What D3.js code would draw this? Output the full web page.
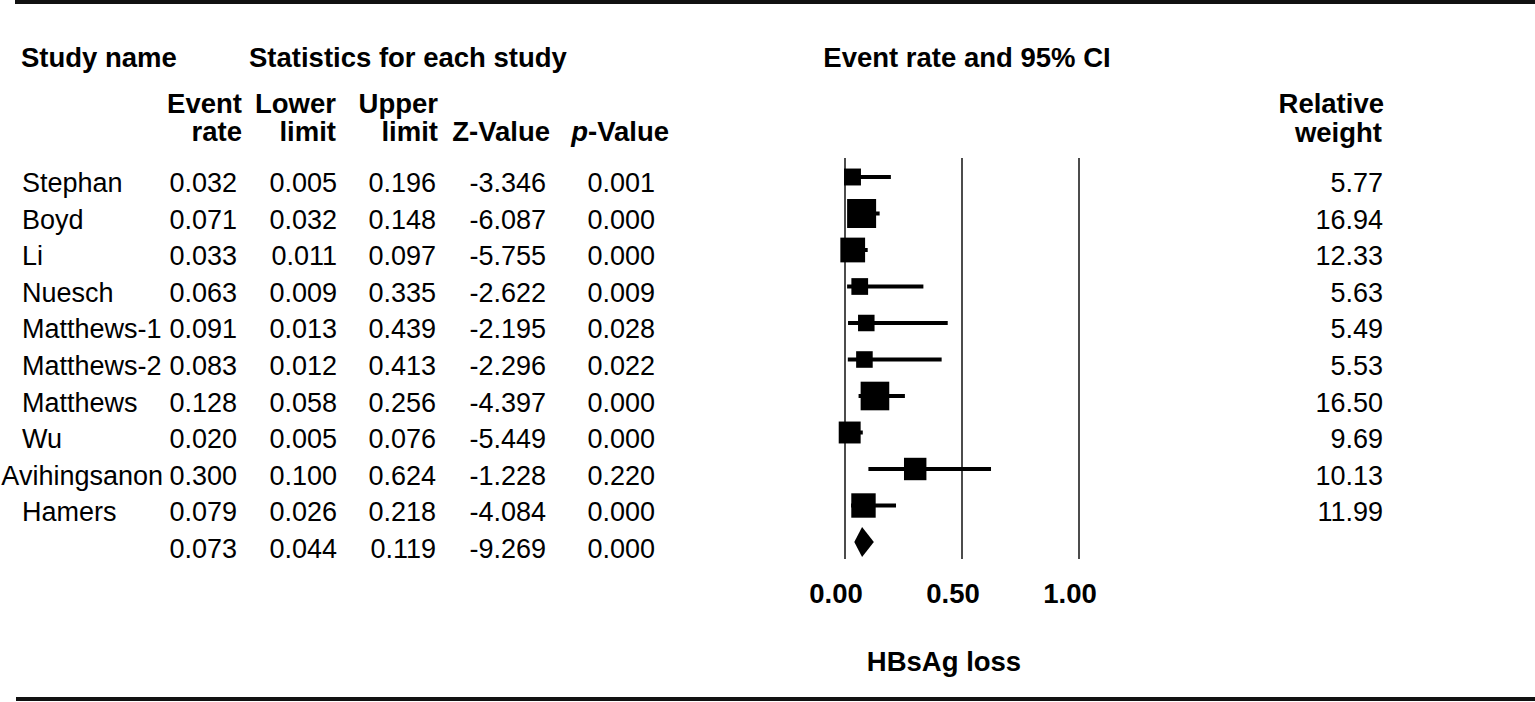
<!DOCTYPE html>
<html>
<head>
<meta charset="utf-8">
<script src="https://cdn.jsdelivr.net/npm/d3@7"></script>
<style>
  body { margin: 0; background: #fff; }
  svg { display: block; font-family: Arial, "Liberation Sans", sans-serif; }
  .hd { font-weight: bold; font-size: 27.5px; }
  .val { font-size: 27px; }
</style>
</head>
<body>
<div id="chart"></div>
<script>
// study data
const studies = ["Stephan", "Boyd", "Li", "Nuesch", "Matthews-1", "Matthews-2", "Matthews", "Wu", "Avihingsanon", "Hamers"];
const eventRate = [0.032, 0.071, 0.033, 0.063, 0.091, 0.083, 0.128, 0.020, 0.300, 0.079];
const lowerLimit = [0.005, 0.032, 0.011, 0.009, 0.013, 0.012, 0.058, 0.005, 0.100, 0.026];
const upperLimit = [0.196, 0.148, 0.097, 0.335, 0.439, 0.413, 0.256, 0.076, 0.624, 0.218];
const zValue = [-3.346, -6.087, -5.755, -2.622, -2.195, -2.296, -4.397, -5.449, -1.228, -4.084];
const pValue = [0.001, 0.000, 0.000, 0.009, 0.028, 0.022, 0.000, 0.000, 0.220, 0.000];
const relWeight = [5.77, 16.94, 12.33, 5.63, 5.49, 5.53, 16.50, 9.69, 10.13, 11.99];

// pooled estimate
const pooled = { rate: 0.073, lower: 0.044, upper: 0.119, z: -9.269, p: 0.000 };

const xTicks = [0, 0.5, 1];

let width = 1535, height = 702;

let svg = d3.select("#chart").append("svg")
    .attr("width", width)
    .attr("height", height);

// rows: studies + pooled. table text and plot marks sit a few px apart
let rowIdx = d3.range(studies.length + 1);
let y = d3.scalePoint().domain(rowIdx).range([182, 548]);      // table text centres
let yPlot = d3.scalePoint().domain(rowIdx).range([177, 542]);  // boxes / diamond

let x = d3.scaleLinear().domain([0, 1]).range([845, 1079]);
let boxSize = d3.scaleSqrt().domain([0, d3.max(relWeight)]).range([0, 29]);

// table column right edges
let colRight = [237, 337, 436, 546, 655];
let headRight = [242, 336, 438, 550, 669];
let nameX = 22, nameLimit = 163;

// plain hyphen for negatives, like the original table
let f3 = v => d3.format(".3f")(v).replace("\u2212", "-");

// top and bottom rules
svg.append("line").attr("x1", 15).attr("x2", width).attr("y1", 2).attr("y2", 2)
    .attr("stroke", "#111").attr("stroke-width", 4);
svg.append("line").attr("x1", 16).attr("x2", width).attr("y1", 699).attr("y2", 699)
    .attr("stroke", "#111").attr("stroke-width", 4);

// headers
svg.append("text").attr("class", "hd").attr("x", 21).attr("y", 67).text("Study name");
svg.append("text").attr("class", "hd").attr("x", 249).attr("y", 67).text("Statistics for each study");
svg.append("text").attr("class", "hd").attr("x", 967).attr("y", 67)
    .attr("text-anchor", "middle").text("Event rate and 95% CI");

let headTop = ["Event", "Lower", "Upper", "", ""];
let headBot = ["rate", "limit", "limit", "Z-Value", "-Value"];
headTop.forEach((t, i) => {
    if (t) svg.append("text").attr("class", "hd").attr("x", headRight[i]).attr("y", 113)
        .attr("text-anchor", "end").text(t);
});
headBot.forEach((t, i) => {
    let tx = svg.append("text").attr("class", "hd").attr("x", headRight[i]).attr("y", 141)
        .attr("text-anchor", "end");
    if (i === 4) {
        tx.append("tspan").style("font-style", "italic").text("p");
        tx.append("tspan").text(t);
    } else {
        tx.text(t);
    }
});
svg.append("text").attr("class", "hd").attr("x", 1384).attr("y", 113)
    .attr("text-anchor", "end").text("Relative");
svg.append("text").attr("class", "hd").attr("x", 1382).attr("y", 142)
    .attr("text-anchor", "end").text("weight");

// study names (long names pushed left so they end before the first column)
let names = svg.append("g").selectAll("text")
    .data(studies)
    .enter().append("text")
    .attr("class", "val")
    .attr("x", nameX)
    .attr("y", (d, i) => y(i) + 10)
    .text(d => d);
names.each(function () {
    let w = this.getComputedTextLength();
    if (nameX + w > nameLimit) d3.select(this).attr("x", Math.max(0, nameLimit - w));
});

// numeric columns
let tableRows = studies.map((s, i) => [eventRate[i], lowerLimit[i], upperLimit[i], zValue[i], pValue[i]]);
tableRows.push([pooled.rate, pooled.lower, pooled.upper, pooled.z, pooled.p]);

let rowsG = svg.append("g").selectAll("g")
    .data(tableRows)
    .enter().append("g");
rowsG.selectAll("text")
    .data((d, i) => d.map(v => ({ v: v, row: i })))
    .enter().append("text")
    .attr("class", "val")
    .attr("x", (d, j) => colRight[j])
    .attr("y", d => y(d.row) + 10)
    .attr("text-anchor", "end")
    .text(d => f3(d.v));

// relative weights
svg.append("g").selectAll("text")
    .data(relWeight)
    .enter().append("text")
    .attr("class", "val")
    .attr("x", 1383)
    .attr("y", (d, i) => y(i) + 10)
    .attr("text-anchor", "end")
    .text(d => d3.format(".2f")(d));

// reference lines
svg.append("g").selectAll("line")
    .data(xTicks)
    .enter().append("line")
    .attr("x1", d => x(d)).attr("x2", d => x(d))
    .attr("y1", 158).attr("y2", 559)
    .attr("stroke", "#111").attr("stroke-width", 1.5);

// tick labels
svg.append("g").selectAll("text")
    .data(xTicks)
    .enter().append("text")
    .attr("class", "hd")
    .attr("x", d => x(d) - 9)
    .attr("y", 603)
    .attr("text-anchor", "middle")
    .text(d => d3.format(".2f")(d));

svg.append("text").attr("class", "hd").attr("x", 944).attr("y", 671)
    .attr("text-anchor", "middle").text("HBsAg loss");

// CI lines
let plot = svg.append("g");
plot.selectAll(".ci")
    .data(studies)
    .enter().append("line")
    .attr("class", "ci")
    .attr("x1", (d, i) => x(lowerLimit[i]))
    .attr("x2", (d, i) => x(upperLimit[i]))
    .attr("y1", (d, i) => yPlot(i)).attr("y2", (d, i) => yPlot(i))
    .attr("stroke", "#000").attr("stroke-width", 4);

// weight boxes
plot.selectAll(".box")
    .data(studies)
    .enter().append("rect")
    .attr("class", "box")
    .attr("x", (d, i) => x(eventRate[i]) - boxSize(relWeight[i]) / 2)
    .attr("y", (d, i) => yPlot(i) - boxSize(relWeight[i]) / 2)
    .attr("width", (d, i) => boxSize(relWeight[i]))
    .attr("height", (d, i) => boxSize(relWeight[i]))
    .attr("fill", "#000");

// pooled diamond
let py = yPlot(studies.length);
plot.append("path")
    .attr("d", "M" + (x(pooled.lower) - 1) + "," + py +
        "L" + x(pooled.rate) + "," + (py - 15) +
        "L" + (x(pooled.upper) + 1) + "," + py +
        "L" + x(pooled.rate) + "," + (py + 15) + "Z")
    .attr("fill", "#000");
</script>
</body>
</html>
